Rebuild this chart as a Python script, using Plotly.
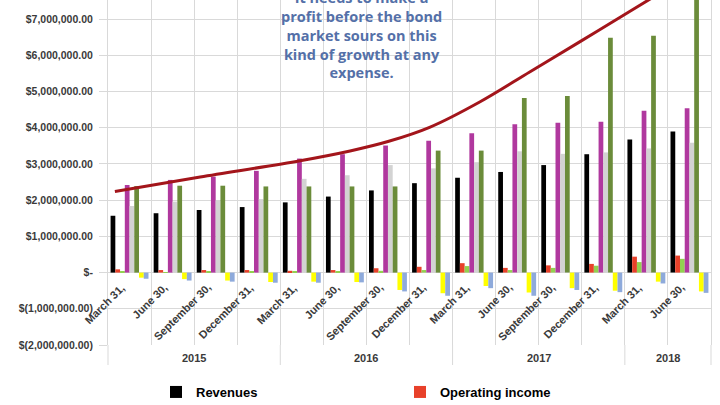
import plotly.graph_objects as go

# ---------------- data ----------------
quarters = ["March 31,", "June 30,", "September 30,", "December 31,",
            "March 31,", "June 30,", "September 30,", "December 31,",
            "March 31,", "June 30,", "September 30,", "December 31,",
            "March 31,", "June 30,"]
years = ["2015", "2016", "2017", "2018"]
year_counts = [4, 4, 4, 2]

revenues = [1.57, 1.64, 1.73, 1.81, 1.94, 2.10, 2.27, 2.47, 2.62, 2.78, 2.97, 3.27, 3.68, 3.90]
operating_income = [0.09, 0.07, 0.07, 0.07, 0.05, 0.07, 0.12, 0.16, 0.26, 0.13, 0.20, 0.24, 0.44, 0.47]
net_income = [0.02, 0.01, 0.03, 0.04, 0.03, 0.04, 0.05, 0.07, 0.18, 0.07, 0.13, 0.19, 0.29, 0.38]
current_content_liab = [2.42, 2.56, 2.65, 2.81, 3.15, 3.27, 3.51, 3.64, 3.85, 4.10, 4.14, 4.17, 4.47, 4.54]
noncurrent_content_liab = [1.84, 1.96, 2.00, 2.03, 2.59, 2.69, 2.97, 2.88, 3.05, 3.35, 3.28, 3.32, 3.43, 3.59]
long_term_debt = [2.39, 2.40, 2.40, 2.38, 2.38, 2.38, 2.38, 3.37, 3.37, 4.82, 4.88, 6.49, 6.54, 8.34]
free_cash_flow = [-0.14, -0.18, -0.22, -0.26, -0.25, -0.26, -0.48, -0.57, -0.37, -0.55, -0.43, -0.50, -0.25, -0.52]
net_cash_change = [-0.17, -0.22, -0.25, -0.28, -0.28, -0.27, -0.52, -0.64, -0.43, -0.64, -0.48, -0.54, -0.30, -0.56]

# trend curve (category position, $M)
curve_pos = [-0.34, 1.64, 3.96, 5.12, 6.0, 6.98, 8.14, 9.30, 10.46, 11.62, 12.7]
curve_val = [2.24, 2.64, 3.09, 3.36, 3.62, 4.02, 4.72, 5.55, 6.38, 7.22, 8.0]

tick_vals = [-2, -1, 0, 1, 2, 3, 4, 5, 6, 7]
tick_text = ["$(2,000,000.00)", "$(1,000,000.00)", "$-", "$1,000,000.00", "$2,000,000.00",
             "$3,000,000.00", "$4,000,000.00", "$5,000,000.00", "$6,000,000.00", "$7,000,000.00"]

note = "It needs to make a<br>profit before the bond<br>market sours on this<br>kind of growth at any<br>expense."

M = 1_000_000
series = [
    ("Revenues", revenues, "#000000", True),
    ("Operating income", operating_income, "#e8412a", True),
    ("Net income", net_income, "#92d050", False),
    ("Current content liabilities", current_content_liab, "#b0389e", False),
    ("Non-current content liabilities", noncurrent_content_liab, "#d3d3d3", False),
    ("Long-term debt", long_term_debt, "#6b8c3a", False),
    ("Free cash flow", free_cash_flow, "#ffff00", False),
    ("Net change in cash", net_cash_change, "#8eaadb", False),
]

n = len(quarters)
xs = list(range(n))

fig = go.Figure()
for name, vals, color, show in series:
    fig.add_trace(go.Bar(
        x=xs, y=[v * M for v in vals], name=name,
        marker=dict(color=color, line=dict(width=0)),
        showlegend=show,
    ))

fig.add_trace(go.Scatter(
    x=curve_pos, y=[v * M for v in curve_val], mode="lines",
    line=dict(color="#a3151b", width=3, shape="spline", smoothing=1.0),
    showlegend=False, hoverinfo="skip",
))

grid = "#d9d9d9"
label_font = dict(family="Liberation Sans, Arial", size=11, color="#3a3a3a", weight="bold")
tick_font = dict(family="Liberation Sans, Arial", size=10.5, color="#3a3a3a", weight="bold")

annotations = []
for i, q in enumerate(quarters):
    annotations.append(dict(
        x=i, y=0, xref="x", yref="y", text=q, showarrow=False,
        textangle=-45, xanchor="right", yanchor="top",
        xshift=0, yshift=-6, font=label_font,
    ))

shapes = []
start = 0
bounds = [0]
for y_, c in zip(years, year_counts):
    mid = (start + c / 2) / n
    annotations.append(dict(
        x=mid, y=-13 / 345, xref="paper", yref="paper", text=y_, showarrow=False,
        xanchor="center", yanchor="middle", font=label_font,
    ))
    start += c
    bounds.append(start)
for b in bounds:
    shapes.append(dict(type="line", xref="paper", yref="paper",
                       x0=b / n, x1=b / n, y0=0, y1=-20 / 345,
                       line=dict(color=grid, width=1)))

annotations.append(dict(
    x=(361 - 108) / 603, y=1 - 84 / 345, xref="paper", yref="paper",
    text=note, showarrow=False, xanchor="center", yanchor="bottom", align="center",
    font=dict(family="Open Sans, Liberation Sans", size=14.5, color="#5470a8", weight="bold"),
))

fig.update_layout(
    width=720, height=405,
    margin=dict(l=108, r=9, t=0, b=60, autoexpand=False),
    paper_bgcolor="white", plot_bgcolor="white",
    barmode="group", bargap=0.12, bargroupgap=0,
    xaxis=dict(
        range=[-0.5, n - 0.5], tickvals=[i - 0.5 for i in range(n + 1)],
        showticklabels=False, showgrid=True, gridcolor=grid, gridwidth=1,
        zeroline=False, ticks="", fixedrange=True, automargin=False,
    ),
    yaxis=dict(
        range=[-2 * M, 7.53 * M], tickvals=[v * M for v in tick_vals], ticktext=tick_text,
        showgrid=True, gridcolor=grid, zeroline=True, zerolinecolor=grid, zerolinewidth=1,
        ticks="outside", ticklen=8, tickcolor=grid, ticklabelstandoff=4,
        showline=True, linecolor=grid, mirror=True, automargin=False,
        tickfont=tick_font,
    ),
    legend=dict(
        orientation="h", x=(156 - 108) / 603, xanchor="left",
        yref="container", y=(405 - 392) / 405, yanchor="middle",
        font=dict(family="Liberation Sans, Arial", size=13, color="#000000", weight="bold"),
        entrywidth=199, bgcolor="rgba(0,0,0,0)",
    ),
    annotations=annotations,
    shapes=shapes,
    showlegend=True,
)

fig.write_html("out.html", config={"displayModeBar": False},
               post_script="document.body.style.margin='0px';document.body.style.overflow='hidden';")
